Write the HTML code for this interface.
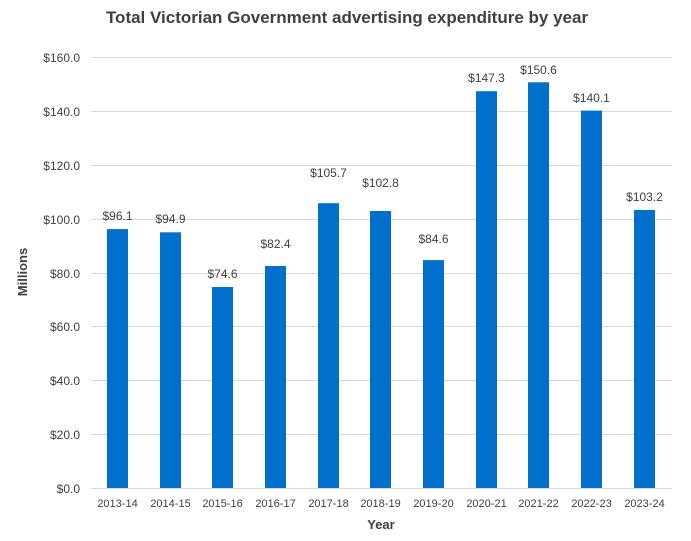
<!DOCTYPE html>
<html><head><meta charset="utf-8"><style>
body{margin:0;background:#fff;}
svg{display:block;font-family:"Liberation Sans",sans-serif;}
</style></head><body>
<svg width="691" height="541" viewBox="0 0 691 541" xmlns="http://www.w3.org/2000/svg">
<rect width="691" height="541" fill="#fff"/>
<text x="347" y="23" text-anchor="middle" font-size="17" font-weight="bold" fill="#404040">Total Victorian Government advertising expenditure by year</text>
<g stroke="#d9d9d9" stroke-width="1">
<line x1="91" x2="672" y1="57.5" y2="57.5"/>
<line x1="91" x2="672" y1="111.5" y2="111.5"/>
<line x1="91" x2="672" y1="165.5" y2="165.5"/>
<line x1="91" x2="672" y1="219.5" y2="219.5"/>
<line x1="91" x2="672" y1="273.5" y2="273.5"/>
<line x1="91" x2="672" y1="326.5" y2="326.5"/>
<line x1="91" x2="672" y1="380.5" y2="380.5"/>
<line x1="91" x2="672" y1="434.5" y2="434.5"/>
<line x1="91" x2="672" y1="488.5" y2="488.5"/>
</g>
<g font-size="12" fill="#404040" text-anchor="end">
<text x="80" y="62">$160.0</text>
<text x="80" y="116">$140.0</text>
<text x="80" y="170">$120.0</text>
<text x="80" y="224">$100.0</text>
<text x="80" y="278">$80.0</text>
<text x="80" y="331">$60.0</text>
<text x="80" y="385">$40.0</text>
<text x="80" y="439">$20.0</text>
<text x="80" y="493">$0.0</text>
</g>
<text transform="translate(27,272) rotate(-90)" text-anchor="middle" font-size="13" font-weight="bold" fill="#404040">Millions</text>
<text x="381" y="529" text-anchor="middle" font-size="13" font-weight="bold" fill="#404040">Year</text>
<g fill="#0070cc">
<rect x="107" y="229.1" width="21" height="258.9"/>
<rect x="160" y="232.3" width="21" height="255.7"/>
<rect x="212" y="287.0" width="21" height="201.0"/>
<rect x="265" y="266.0" width="21" height="222.0"/>
<rect x="318" y="203.2" width="21" height="284.8"/>
<rect x="370" y="211.0" width="21" height="277.0"/>
<rect x="423" y="260.1" width="21" height="227.9"/>
<rect x="476" y="91.2" width="21" height="396.8"/>
<rect x="528" y="82.3" width="21" height="405.7"/>
<rect x="581" y="110.6" width="21" height="377.4"/>
<rect x="634" y="210.0" width="21" height="278.0"/>
</g>
<g font-size="12" fill="#404040" text-anchor="middle">
<text x="117.5" y="220">$96.1</text>
<text x="170.5" y="223">$94.9</text>
<text x="222.5" y="278">$74.6</text>
<text x="275.5" y="248">$82.4</text>
<text x="328.5" y="177">$105.7</text>
<text x="380.5" y="187">$102.8</text>
<text x="433.5" y="243">$84.6</text>
<text x="486.5" y="82">$147.3</text>
<text x="538.5" y="74">$150.6</text>
<text x="591.5" y="102">$140.1</text>
<text x="644.5" y="201">$103.2</text>
</g>
<g font-size="11" fill="#404040" text-anchor="middle">
<text x="117.5" y="507">2013-14</text>
<text x="170.5" y="507">2014-15</text>
<text x="222.5" y="507">2015-16</text>
<text x="275.5" y="507">2016-17</text>
<text x="328.5" y="507">2017-18</text>
<text x="380.5" y="507">2018-19</text>
<text x="433.5" y="507">2019-20</text>
<text x="486.5" y="507">2020-21</text>
<text x="538.5" y="507">2021-22</text>
<text x="591.5" y="507">2022-23</text>
<text x="644.5" y="507">2023-24</text>
</g>
</svg>
</body></html>
